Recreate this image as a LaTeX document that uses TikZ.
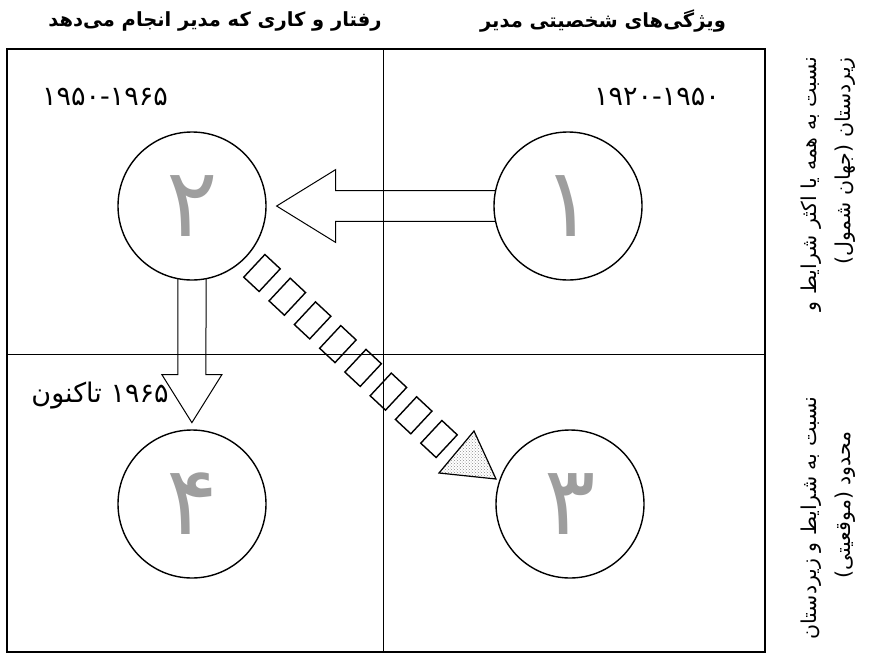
\documentclass[tikz,border=0pt]{standalone}
\usepackage{fontspec}
\usepackage{tikz}
\usetikzlibrary{patterns}
\newfontfamily\farsi[Script=Arabic]{DejaVu Sans}
\TeXXeTstate=1

\begin{document}
\begin{tikzpicture}[x=1pt,y=1pt]
  \tikzstyle{every node}+=[inner sep=0pt]
  \tikzstyle{phase}=[draw=black,circle,line width=1.4pt,minimum size=148pt,outer sep=0pt,text=black!38,font=\farsi\fontsize{96}{96}\selectfont]
  \tikzstyle{head}=[font=\farsi\bfseries\fontsize{19.5}{22}\selectfont]
  \tikzstyle{side}=[rotate=90,font=\farsi\fontsize{20.5}{24}\selectfont]
  \tikzstyle{years}=[font=\farsi\fontsize{27}{30}\selectfont]
  \tikzstyle{hollow}=[draw=black,line width=1pt,line join=miter]
  \tikzstyle{link}=[draw=black,line width=1.4pt,rectangle,minimum width=21pt,minimum height=31pt,rotate=-43]
  \useasboundingbox (0,0) rectangle (872,-654);
  % grid
  \draw [black,line width=1.3pt] (7,-49) rectangle (765,-652);
  \draw [black,line width=0.9pt] (383,-49) -- (383,-652);
  \draw [black,line width=0.9pt] (7,-354) -- (765,-354);
  % column heads
  \node [head] (hbeh) at (215,-21) {\beginR رفتار و کاری که مدیر انجام می‌دهد\endR};
  \node [head] (htrait) at (603,-21) {\beginR ویژگی‌های شخصیتی مدیر\endR};
  % row heads
  \node [side,anchor=east] (rall) at (811,-57) {\beginR نسبت به همه یا اکثر شرایط و\endR};
  \node [side,anchor=east] (rallb) at (845,-57) {\beginR زیردستان (جهان شمول)\endR};
  \node [side] (rsit) at (811,-518) {\beginR نسبت به شرایط و زیردستان\endR};
  \node [side] (rsitb) at (845,-505) {\beginR محدود (موقعیتی)\endR};
  % periods
  \node [years] (y1) at (657,-97) {۱۹۲۰-۱۹۵۰};
  \node [years] (y2) at (105,-97) {۱۹۵۰-۱۹۶۵};
  \node [years] (y4) at (100,-396) {\beginR\beginL ۱۹۶۵\endL{} تاکنون\endR};
  % circles
  \node [phase] (c1) at (568,-206) {۱};
  \node [phase] (c2) at (192,-206) {۲};
  \node [phase] (c3) at (570,-504) {۳};
  \node [phase] (c4) at (192,-504) {۴};
  % block arrows
  \draw [hollow] (c1.168) -- ++(-160,0) -- ++(0,21) -- ++(-59,-36.4) -- ++(59,-36.4) -- ++(0,21) -- (c1.192);
  \draw [hollow] (c2.259) -- ++(0,-96) -- ++(-16,0) -- ++(30,-48) -- ++(30,48) -- ++(-16,0) -- (c2.281);
  % chain from 2 to 3
  \node [link] (q1) at (262,-273) {};
  \node [link] (q2) at (287.3,-296.7) {};
  \node [link] (q3) at (312.6,-320.4) {};
  \node [link] (q4) at (337.9,-344.1) {};
  \node [link] (q5) at (363.1,-367.9) {};
  \node [link] (q6) at (388.4,-391.6) {};
  \node [link] (q7) at (413.7,-415.3) {};
  \node [link] (q8) at (439,-439) {};
  \draw [black,line width=1.2pt,pattern=crosshatch dots,pattern color=black!45] (474,-431) -- (496,-479) -- (439,-473) -- cycle;
\end{tikzpicture}
\end{document}
